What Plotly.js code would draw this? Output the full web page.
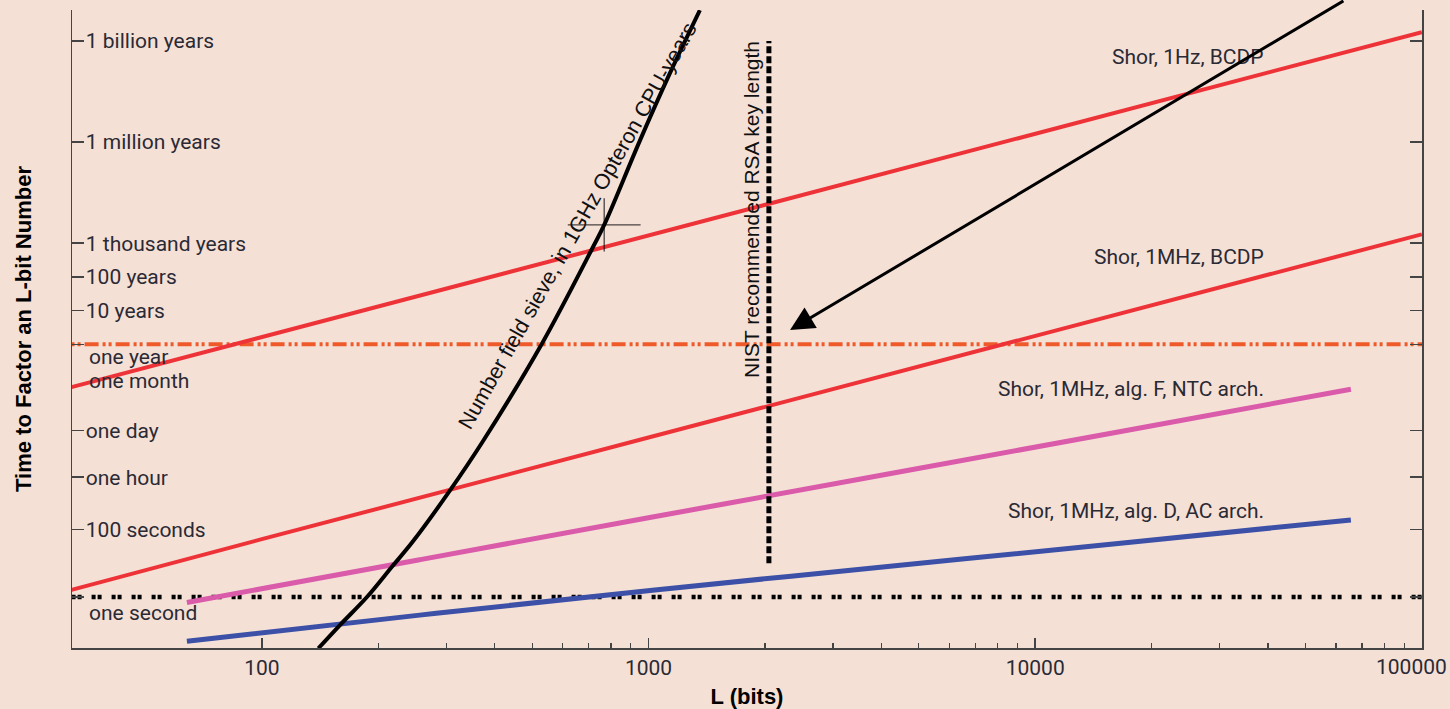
<!DOCTYPE html>
<html><head><meta charset="utf-8">
<script src="https://cdn.plot.ly/plotly-3.0.1.min.js"></script>
<style>html,body{margin:0;padding:0;background:#F5E0D6;}#chart{width:1450px;height:709px;}</style>
</head><body><div id="chart"></div>
<script>
// ---- data (time in seconds, key length L in bits) ----
const YEAR = 3.156e7;
const shorL      = [32, 100, 1000, 10000, 100000];
const shor1HzT   = [1.66e6, 5.2e7, 5.4e10, 5.6e13, 5.8e16];
const shor1MHzT  = [1.6, 52, 5.4e4, 5.6e7, 5.8e10];
const algL       = [64, 256, 1024, 4096, 16384, 65536];
const algFT      = [0.69, 12.8, 236, 4300, 7.9e4, 1.47e6];
const algDT      = [0.049, 0.29, 1.6, 7.9, 39, 194];
const nfsL       = [140, 159, 187, 217, 246, 306, 373, 530, 718, 768, 950, 1136, 1358];
const nfsT       = [0.030, 0.145, 1.0, 7.9, 45, 1410, 4.2e4, 3.3e7, 2.4e10, 1.1e11, 3.5e13, 3.5e15, 2.6e17];
const rsa768L    = [768, 768];
const rsa768T    = [1.1e11, 1.1e11];
const nistL      = [2048, 2048];
const nistT      = [10, 3.156e16];
const refSpanL   = [20, 200000];
const oneYearT   = [YEAR, YEAR];
const oneSecondT = [1, 1];
const seriesNames = ['Shor, 1Hz, BCDP', 'Shor, 1MHz, BCDP', 'Shor, 1MHz, alg. F, NTC arch.', 'Shor, 1MHz, alg. D, AC arch.'];
const nfsName    = 'Number field sieve, in 1GHz Opteron CPU-years';
const nistName   = 'NIST recommended RSA key length';
const yTickVals  = [1, 100, 3600, 86400, YEAR, 10*YEAR, 100*YEAR, 1e3*YEAR, 1e6*YEAR, 1e9*YEAR];
const yTickText  = ['', '100 seconds', 'one hour', 'one day', '', '10 years', '100 years', '1 thousand years', '1 million years', '1 billion years'];
const freeLabels = ['one year', 'one month', 'one second'];
const freeLabelT = [YEAR, YEAR/12, 1];
const xTickVals  = [100, 1000, 10000, 100000];
const xTickText  = ['100', '1000', '10000', ''];
const xEdgeLabel = '100000';
const xMinorVals = [40,50,60,70,80,90,200,300,400,500,600,700,800,900,2000,3000,4000,5000,6000,7000,8000,9000,20000,30000,40000,50000,60000,70000,80000,90000];

// ---- styling ----
const BG = '#F5E0D6';
const RED = '#EE3338', PINK = '#D95BA9', BLUE = '#3B50A6', ORANGE = '#EF5A2B';
const TXT = '#2a2a35';
const labelFont = {family: 'Roboto, sans-serif', size: 21, color: TXT};
const lg = v => Math.log10(v);

const traces = [
  {x: refSpanL, y: oneYearT, mode: 'lines', line: {color: ORANGE, width: 4, dash: '14px,4px,3px,3px,3px,4px'}, hoverinfo: 'skip'},
  {x: refSpanL, y: oneSecondT, mode: 'lines', line: {color: '#000', width: 4.5, dash: '4px,2px,4px,10px'}, hoverinfo: 'skip'},
  {x: shorL, y: shor1HzT, mode: 'lines', name: seriesNames[0], line: {color: RED, width: 4}},
  {x: shorL, y: shor1MHzT, mode: 'lines', name: seriesNames[1], line: {color: RED, width: 4}},
  {x: algL, y: algFT, mode: 'lines', name: seriesNames[2], line: {color: PINK, width: 5, shape: 'spline'}},
  {x: algL, y: algDT, mode: 'lines', name: seriesNames[3], line: {color: BLUE, width: 5, shape: 'spline'}},
  {x: nfsL, y: nfsT, mode: 'lines', name: nfsName, line: {color: '#000', width: 4, shape: 'spline', smoothing: 1}},
  {x: nistL, y: nistT, mode: 'lines', name: nistName, line: {color: '#000', width: 5, dash: '7px,3px'}},
  {x: rsa768L, y: rsa768T, mode: 'markers', name: 'RSA-768',
   marker: {symbol: ['line-ew', 'line-ns'], size: [52, 38], color: '#000', line: {color: '#000', width: 1.3}}}
];

const annotations = [];
const labelPos = [
  {x: 4.597, y: 16.025}, {x: 4.597, y: 10.09}, {x: 4.597, y: 6.174}, {x: 4.597, y: 2.554}
];
seriesNames.forEach((t, i) => annotations.push({
  x: labelPos[i].x, y: labelPos[i].y, xref: 'x', yref: 'y', text: t, showarrow: false,
  xanchor: 'right', yanchor: 'middle', font: labelFont
}));
annotations.push({x: 2.817, y: 11.0, xref: 'x', yref: 'y', text: nfsName, showarrow: false,
  textangle: -60.6, xanchor: 'center', yanchor: 'middle',
  font: {family: 'Liberation Sans, Arial, sans-serif', size: 21.5, color: '#111'}});
annotations.push({x: 3.2675, y: 11.515, xref: 'x', yref: 'y', text: nistName, showarrow: false,
  textangle: -90, xanchor: 'center', yanchor: 'middle',
  font: {family: 'Liberation Sans, Arial, sans-serif', size: 21, color: '#111'}});
// arrow pointing at the NIST / one-year crossing
annotations.push({x: 3.366, y: 7.924, xref: 'x', yref: 'y', ax: 4.801, ay: 17.717, axref: 'x', ayref: 'y',
  text: '', showarrow: true, arrowhead: 2, arrowsize: 1.6, arrowwidth: 3, arrowcolor: '#000', standoff: 0});
const freeShift = [-13, 0, -16];
freeLabels.forEach((t, i) => annotations.push({
  x: 0, xref: 'paper', xshift: 15, y: lg(freeLabelT[i]), yref: 'y', yshift: freeShift[i],
  text: t, showarrow: false, xanchor: 'left', yanchor: 'middle', font: labelFont
}));
// last x tick label, kept inside the page at the right edge
annotations.push({x: 1, xref: 'paper', xanchor: 'right', xshift: 27, y: 0, yref: 'paper', yanchor: 'middle', yshift: -19,
  text: xEdgeLabel, showarrow: false, font: labelFont});

const layout = {
  width: 1450, height: 709,
  paper_bgcolor: BG, plot_bgcolor: BG,
  margin: {l: 72, r: 28, t: 10, b: 61},
  showlegend: false,
  xaxis: {
    type: 'log', range: [1.509, 5.0004], tickmode: 'array', tickvals: xTickVals, ticktext: xTickText,
    ticks: 'inside', ticklen: 10, tickwidth: 1.5, tickcolor: '#444',
    showline: true, linecolor: '#444', linewidth: 1.5, mirror: false,
    showgrid: false, zeroline: false, tickfont: labelFont,
    minor: {tickmode: 'array', tickvals: xMinorVals, ticks: 'inside', ticklen: 5, tickwidth: 1.2, tickcolor: '#444', showgrid: false},
    title: {text: 'L (bits)', standoff: 12, font: {family: 'Liberation Sans, Arial, sans-serif', size: 22, weight: 'bold', color: '#000'}}
  },
  xaxis2: {
    type: 'log', range: [1.509, 5.0004], overlaying: 'x', side: 'top', anchor: 'y',
    tickmode: 'array', tickvals: xTickVals, showticklabels: false,
    ticks: 'inside', ticklen: 5, tickwidth: 1.5, tickcolor: '#444',
    showline: false, showgrid: false, zeroline: false,
    minor: {tickmode: 'array', tickvals: xMinorVals, ticks: 'inside', ticklen: 2.5, tickwidth: 1.2, tickcolor: '#444', showgrid: false}
  },
  yaxis: {
    type: 'log', range: [-1.513, 17.42], tickmode: 'array', tickvals: yTickVals, ticktext: yTickText,
    ticks: 'inside', ticklen: 12, tickwidth: 1.5, tickcolor: '#444',
    ticklabelposition: 'inside', ticklabelstandoff: 3,
    showline: true, mirror: 'ticks', linecolor: '#444', linewidth: 1.5,
    showgrid: false, zeroline: false, tickfont: labelFont,
    title: {text: 'Time to Factor an L-bit Number', standoff: 48, font: {family: 'Liberation Sans, Arial, sans-serif', size: 22, weight: 'bold', color: '#000'}}
  },
  annotations: annotations
};

Plotly.newPlot('chart', traces, layout, {displayModeBar: false, staticPlot: true});
</script>
</body></html>
